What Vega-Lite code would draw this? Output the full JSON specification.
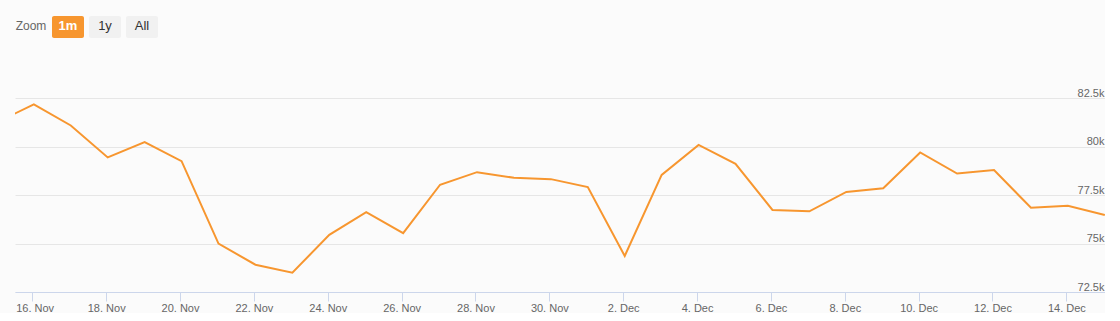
{
  "$schema": "https://vega.github.io/schema/vega-lite/v6.json",
  "background": "#fbfbfb",
  "padding": {"left": 15, "top": 16, "right": 0, "bottom": 0},
  "autosize": {"type": "pad"},
  "bounds": "flush",
  "spacing": 12,
  "config": {"view": {"stroke": null}, "font": "Liberation Sans"},
  "datasets": {
    "buttons": [
      {"label": "Zoom", "kind": "label"},
      {"label": "1m", "kind": "selected"},
      {"label": "1y", "kind": "button"},
      {"label": "All", "kind": "button"}
    ],
    "prices": [
      {"t": "2023-11-15T01:00:00Z", "v": 81270},
      {"t": "2023-11-16T01:00:00Z", "v": 82190},
      {"t": "2023-11-17T01:00:00Z", "v": 81100},
      {"t": "2023-11-18T01:00:00Z", "v": 79450},
      {"t": "2023-11-19T01:00:00Z", "v": 80240},
      {"t": "2023-11-20T01:00:00Z", "v": 79260},
      {"t": "2023-11-21T01:00:00Z", "v": 75000},
      {"t": "2023-11-22T01:00:00Z", "v": 73910},
      {"t": "2023-11-23T01:00:00Z", "v": 73500},
      {"t": "2023-11-24T01:00:00Z", "v": 75450},
      {"t": "2023-11-25T01:00:00Z", "v": 76620},
      {"t": "2023-11-26T01:00:00Z", "v": 75540},
      {"t": "2023-11-27T01:00:00Z", "v": 78040},
      {"t": "2023-11-28T01:00:00Z", "v": 78690},
      {"t": "2023-11-29T01:00:00Z", "v": 78400},
      {"t": "2023-11-30T01:00:00Z", "v": 78330},
      {"t": "2023-12-01T01:00:00Z", "v": 77920},
      {"t": "2023-12-02T01:00:00Z", "v": 74360},
      {"t": "2023-12-03T01:00:00Z", "v": 78550},
      {"t": "2023-12-04T01:00:00Z", "v": 80100},
      {"t": "2023-12-05T01:00:00Z", "v": 79120},
      {"t": "2023-12-06T01:00:00Z", "v": 76740},
      {"t": "2023-12-07T01:00:00Z", "v": 76670},
      {"t": "2023-12-08T01:00:00Z", "v": 77670},
      {"t": "2023-12-09T01:00:00Z", "v": 77860},
      {"t": "2023-12-10T01:00:00Z", "v": 79710},
      {"t": "2023-12-11T01:00:00Z", "v": 78620},
      {"t": "2023-12-12T01:00:00Z", "v": 78800},
      {"t": "2023-12-13T01:00:00Z", "v": 76850},
      {"t": "2023-12-14T01:00:00Z", "v": 76950},
      {"t": "2023-12-15T01:00:00Z", "v": 76480}
    ]
  },
  "vconcat": [
    {
      "width": 143,
      "height": 22,
      "data": {"name": "buttons"},
      "encoding": {
        "x": {
          "field": "label",
          "type": "nominal",
          "sort": null,
          "scale": {"domain": ["Zoom", "1m", "1y", "All"], "paddingInner": 0.135, "paddingOuter": 0},
          "axis": null
        }
      },
      "layer": [
        {
          "transform": [{"filter": "datum.kind !== 'label'"}],
          "mark": {"type": "rect", "cornerRadius": 2},
          "encoding": {
            "color": {
              "condition": {"test": "datum.kind === 'selected'", "value": "#f7962f"},
              "value": "#f1f1f1"
            }
          }
        },
        {
          "transform": [{"filter": "datum.kind === 'label'"}],
          "mark": {"type": "text", "fontSize": 12, "color": "#666666", "baseline": "middle", "dy": -1},
          "encoding": {"text": {"field": "label"}}
        },
        {
          "transform": [{"filter": "datum.kind === 'selected'"}],
          "mark": {"type": "text", "fontSize": 13, "fontWeight": "bold", "color": "#ffffff", "baseline": "middle", "dy": -1},
          "encoding": {"text": {"field": "label"}}
        },
        {
          "transform": [{"filter": "datum.kind === 'button'"}],
          "mark": {"type": "text", "fontSize": 13, "color": "#333333", "baseline": "middle", "dy": -1},
          "encoding": {"text": {"field": "label"}}
        }
      ]
    },
    {
      "width": 1090,
      "height": 242,
      "data": {"name": "prices"},
      "mark": {"type": "line", "color": "#f7962f", "strokeWidth": 2, "clip": true},
      "encoding": {
        "x": {
          "field": "t",
          "type": "temporal",
          "scale": {
            "type": "utc",
            "domain": [
              {"year": 2023, "month": 11, "date": 15, "hours": 12, "minutes": 45, "utc": true},
              {"year": 2023, "month": 12, "date": 15, "hours": 1, "minutes": 7, "utc": true}
            ]
          },
          "axis": {
            "title": null,
            "format": "%-d. %b",
            "values": [
              {"year": 2023, "month": 11, "date": 16, "utc": true},
              {"year": 2023, "month": 11, "date": 18, "utc": true},
              {"year": 2023, "month": 11, "date": 20, "utc": true},
              {"year": 2023, "month": 11, "date": 22, "utc": true},
              {"year": 2023, "month": 11, "date": 24, "utc": true},
              {"year": 2023, "month": 11, "date": 26, "utc": true},
              {"year": 2023, "month": 11, "date": 28, "utc": true},
              {"year": 2023, "month": 11, "date": 30, "utc": true},
              {"year": 2023, "month": 12, "date": 2, "utc": true},
              {"year": 2023, "month": 12, "date": 4, "utc": true},
              {"year": 2023, "month": 12, "date": 6, "utc": true},
              {"year": 2023, "month": 12, "date": 8, "utc": true},
              {"year": 2023, "month": 12, "date": 10, "utc": true},
              {"year": 2023, "month": 12, "date": 12, "utc": true},
              {"year": 2023, "month": 12, "date": 14, "utc": true}
            ],
            "grid": false,
            "domainColor": "#ccd6eb",
            "domainWidth": 1,
            "tickColor": "#ccd6eb",
            "tickSize": 9,
            "tickWidth": 1,
            "labelColor": "#666666",
            "labelFontSize": 11,
            "labelPadding": 1,
            "labelFlush": 20,
            "labelFlushOffset": 16.6,
            "labelOverlap": false
          }
        },
        "y": {
          "field": "v",
          "type": "quantitative",
          "scale": {"domain": [72500, 85000], "nice": false, "zero": false},
          "axis": {
            "title": null,
            "orient": "right",
            "values": [72500, 75000, 77500, 80000, 82500],
            "format": ".3~s",
            "grid": true,
            "gridColor": "#e6e6e6",
            "gridWidth": 1,
            "domain": false,
            "ticks": false,
            "labelAlign": "right",
            "labelBaseline": "alphabetic",
            "labelPadding": -1,
            "labelOffset": -2,
            "labelColor": "#666666",
            "labelFontSize": 11
          }
        }
      }
    }
  ]
}
